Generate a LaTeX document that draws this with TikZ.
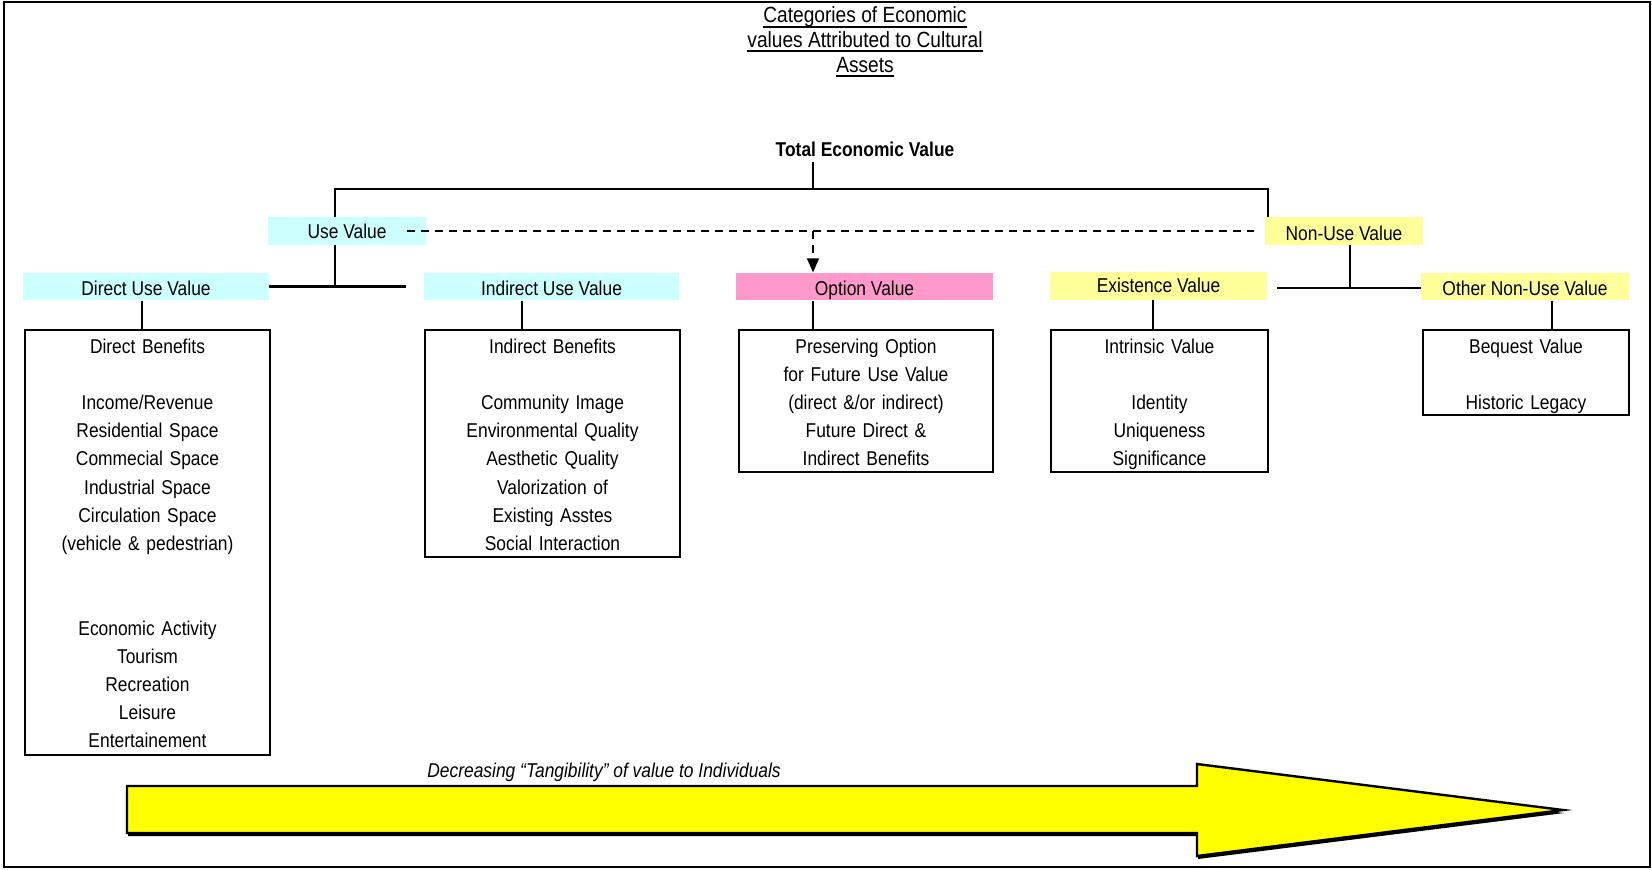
\documentclass[tikz,border=0pt]{standalone}
\usepackage{fontspec}
\setmainfont{Liberation Sans}[FakeStretch=0.87]
\newcommand\titleul[1]{\setbox0=\hbox{#1}\rlap{\rule[-2.5pt]{\wd0}{1pt}}\box0}
\usetikzlibrary{arrows.meta}
\definecolor{usecyan}{HTML}{CCFFFF}
\definecolor{nonuseyellow}{HTML}{FFFF99}
\definecolor{optionpink}{HTML}{FF99CC}
\definecolor{arrowyellow}{HTML}{FFFF00}
\begin{document}
\begin{tikzpicture}[x=0.5pt,y=-0.5pt]
\tikzstyle{every node}=[font=\fontsize{10pt}{14.1pt}\selectfont,inner sep=0pt]
\tikzstyle{valuebox}=[minimum height=13.75pt,text height=9.2pt,text depth=0pt]
\tikzstyle{benefitbox}=[draw,line width=1pt,anchor=north,align=center,text height=11.5pt]
\tikzstyle{link}=[line width=1.3pt]
\tikzstyle{optionlink}=[line width=0.8pt,dash pattern=on 4pt off 3pt]

\useasboundingbox (0,0) rectangle (1652,869);
\draw[line width=1pt] (4,2) rectangle (1650,867);

\node (title) at (865,42) [align=center,font=\fontsize{11pt}{12.3pt}\selectfont]
  {\titleul{Categories of Economic}\\ \titleul{values Attributed to Cultural}\\ \titleul{Assets}};
\node (tev) at (865,149) [font=\fontsize{10pt}{12pt}\selectfont\bfseries] {Total Economic Value};

\node (usev) at (347,231) [valuebox,fill=usecyan,minimum width=79pt,text height=7.2pt] {Use Value};
\node (nonusev) at (1344,231) [valuebox,fill=nonuseyellow,minimum width=79pt] {Non-Use Value};

\node (dirv) at (146,286.5) [valuebox,fill=usecyan,minimum width=123pt] {Direct Use Value};
\node (indv) at (551.5,286.5) [valuebox,fill=usecyan,minimum width=127.5pt] {Indirect Use Value};
\node (optv) at (864.5,286.5) [valuebox,fill=optionpink,minimum width=128.5pt] {Option Value};
\node (exv) at (1158.5,286) [valuebox,fill=nonuseyellow,minimum width=108.5pt,text height=6.2pt] {Existence Value};
\node (othv) at (1525,286.5) [valuebox,fill=nonuseyellow,minimum width=104pt] {Other Non-Use Value};

\node (dirb) at (147.5,329) [benefitbox,text width=122.5pt,text depth=201pt]
  {Direct Benefits\\[14.1pt] Income/Revenue\\ Residential Space\\ Commecial Space\\
   Industrial Space\\ Circulation Space\\ (vehicle \& pedestrian)\\[28.2pt]
   Economic Activity\\ Tourism\\ Recreation\\ Leisure\\ Entertainement};
\node (indb) at (552.5,329) [benefitbox,text width=127.5pt,text depth=102pt]
  {Indirect Benefits\\[14.1pt] Community Image\\ Environmental Quality\\ Aesthetic Quality\\
   Valorization of\\ Existing Asstes\\ Social Interaction};
\node (optb) at (866,329) [benefitbox,text width=127pt,text depth=59.5pt]
  {Preserving Option\\ for Future Use Value\\ (direct \&/or indirect)\\ Future Direct \&\\ Indirect Benefits};
\node (exb) at (1159.5,329) [benefitbox,text width=108.5pt,text depth=59.5pt]
  {Intrinsic Value\\[14.1pt] Identity\\ Uniqueness\\ Significance};
\node (othb) at (1526,329) [benefitbox,text width=103pt,text depth=31pt]
  {Bequest Value\\[14.1pt] Historic Legacy};

\coordinate (tevfoot) at (813,162);
\coordinate (bracketL) at (335,189);
\coordinate (bracketR) at (1268,189);
\coordinate (nonusefork) at (1350,288);
\coordinate (optfork) at (813,231);
\draw[link] (tevfoot) -- (tevfoot |- bracketL);
\draw[link] (bracketL |- usev.north) -- (bracketL) -- (bracketR) -- (bracketR |- nonusev.north);
\draw[link] (bracketL |- usev.south) -- (bracketL |- dirv.east);
\draw[link] (dirv.east) -- ([xshift=-9pt]indv.west);
\draw[link] (nonusefork |- nonusev.south) -- (nonusefork);
\draw[link] ([xshift=5pt]exv.east |- nonusefork) -- (othv.west |- nonusefork);
\draw[optionlink] ([xshift=-9.5pt]usev.east) -- ([xshift=-5.5pt]nonusev.west);
\draw[optionlink,-{Triangle[length=7pt,width=6pt]}] (optfork) -- (optfork |- optv.north);

\draw[link] (142,0 |- dirv.south) -- (142,0 |- dirb.north);
\draw[link] (522,0 |- indv.south) -- (522,0 |- indb.north);
\draw[link] (813,0 |- optv.south) -- (813,0 |- optb.north);
\draw[link] (1153,0 |- exv.south) -- (1153,0 |- exb.north);
\draw[link] (1552,0 |- othv.south) -- (1552,0 |- othb.north);

% tangibility arrow
\fill[black,yshift=-1.5pt,xshift=0.5pt] (127,786) -- (1197,786) -- (1197,764) -- (1563,810)
  -- (1197,856) -- (1197,833) -- (127,833) -- cycle;
\draw[fill=arrowyellow,line width=1.2pt,line join=miter] (127,786) -- (1197,786) -- (1197,764) -- (1563,810)
  -- (1197,856) -- (1197,833) -- (127,833) -- cycle;
\node (tangible) at (427,772) [anchor=west,font=\fontsize{10pt}{12pt}\selectfont\itshape]
  {Decreasing ``Tangibility'' of value to Individuals};
\end{tikzpicture}
\end{document}
